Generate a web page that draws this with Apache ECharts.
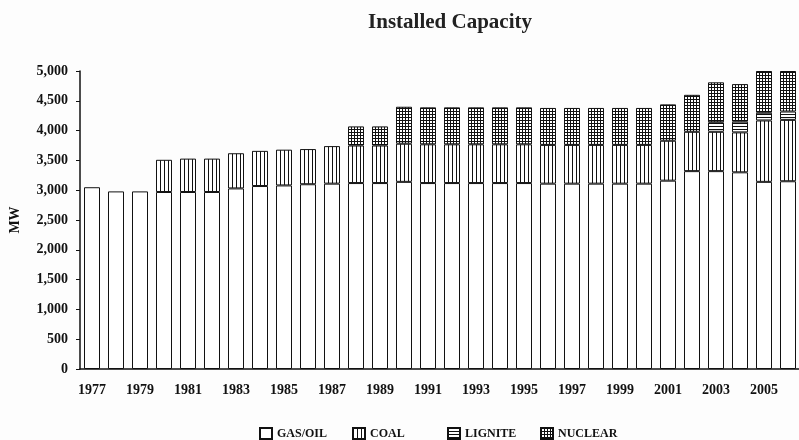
<!DOCTYPE html>
<html>
<head>
<meta charset="utf-8">
<script src="https://cdn.jsdelivr.net/npm/echarts@6/dist/echarts.min.js"></script>
<style>
  html, body { margin: 0; padding: 0; background: #fdfdfd; }
  #chart { width: 799px; height: 440px; }
</style>
</head>
<body>
<div id="chart"></div>
<script>
// years on the category axis
const years = ['1977', '1978', '1979', '1980', '1981', '1982', '1983', '1984', '1985', '1986',
  '1987', '1988', '1989', '1990', '1991', '1992', '1993', '1994', '1995', '1996',
  '1997', '1998', '1999', '2000', '2001', '2002', '2003', '2004', '2005', '2006']

// MW per fuel type
const gasOil = [3050, 2980, 2980, 2970, 2970, 2970, 3030, 3070, 3080, 3100,
  3110, 3120, 3120, 3140, 3120, 3120, 3120, 3120, 3120, 3110,
  3110, 3110, 3110, 3110, 3160, 3320, 3320, 3300, 3140, 3150]
const coal = [0, 0, 0, 540, 560, 560, 590, 590, 600, 590,
  630, 630, 630, 640, 650, 650, 650, 650, 650, 650,
  650, 650, 650, 650, 670, 660, 660, 670, 1030, 1030]
const lignite = [0, 0, 0, 0, 0, 0, 0, 0, 0, 0,
  0, 0, 0, 0, 0, 0, 0, 0, 0, 0,
  0, 0, 0, 0, 0, 0, 160, 180, 130, 140]
const nuclear = [0, 0, 0, 0, 0, 0, 0, 0, 0, 0,
  0, 320, 320, 620, 620, 620, 620, 620, 620, 620,
  620, 620, 620, 620, 610, 620, 670, 630, 700, 680]

const fuels = ['GAS/OIL', 'COAL', 'LIGNITE', 'NUCLEAR']

const font = 'Liberation Serif'

// hatch fills like the old print chart
function pattern(w, h, draw) {
  const c = document.createElement('canvas')
  c.width = w
  c.height = h
  const ctx = c.getContext('2d')
  ctx.fillStyle = '#ffffff'
  ctx.fillRect(0, 0, w, h)
  ctx.fillStyle = '#111111'
  draw(ctx)
  return { image: c, repeat: 'repeat' }
}
const coalFill = pattern(4, 1, ctx => ctx.fillRect(0, 0, 1, 1))
const ligniteFill = pattern(1, 3, ctx => ctx.fillRect(0, 0, 1, 1))
const nuclearFill = pattern(3, 3, ctx => {
  ctx.fillRect(0, 0, 3, 1)
  ctx.fillRect(0, 0, 1, 3)
})

function bar(name, data, fill) {
  return {
    name: name,
    type: 'bar',
    stack: 'total',
    barWidth: 16,
    // empty segments would still draw a border line, so skip them
    data: data.map(v => (v === 0 ? null : v)),
    itemStyle: { color: fill, borderColor: '#111', borderWidth: 1 },
    emphasis: { disabled: true }
  }
}

// the printed legend is spaced unevenly, so one legend per entry
const legendLeft = [259, 352, 447, 540]
const legends = fuels.map((name, i) => ({
  data: [name],
  left: legendLeft[i],
  top: 427,
  padding: 0,
  icon: 'rect',
  itemWidth: 12,
  itemHeight: 11,
  selectedMode: false,
  textStyle: { fontFamily: font, fontSize: 12, fontWeight: 'bold', color: '#111' }
}))

const myChart = echarts.init(document.getElementById('chart'))
myChart.setOption({
  backgroundColor: '#fdfdfd',
  animation: false,
  title: {
    text: 'Installed Capacity',
    left: 445,
    top: 7,
    textAlign: 'center',
    textStyle: { fontFamily: font, fontSize: 21, fontWeight: 'bold', color: '#222' }
  },
  legend: legends,
  grid: { left: 80, top: 71, width: 720, height: 298, outerBoundsMode: 'none' },
  xAxis: {
    type: 'category',
    data: years,
    axisLine: { lineStyle: { color: '#111', width: 1.5 } },
    axisTick: { length: 4, lineStyle: { color: '#111' } },
    axisLabel: {
      interval: 1,
      margin: 14,
      fontFamily: font,
      fontSize: 14,
      fontWeight: 'bold',
      color: '#111'
    }
  },
  yAxis: {
    type: 'value',
    min: 0,
    max: 5000,
    interval: 500,
    name: 'MW',
    nameLocation: 'middle',
    nameGap: 58,
    nameTextStyle: { fontFamily: font, fontSize: 14, fontWeight: 'bold', color: '#111' },
    axisLine: { show: true, lineStyle: { color: '#111', width: 1.5 } },
    axisTick: { show: true, length: 4, lineStyle: { color: '#111' } },
    splitLine: { show: false },
    axisLabel: {
      margin: 12,
      fontFamily: font,
      fontSize: 14,
      fontWeight: 'bold',
      color: '#111',
      formatter: v => v.toLocaleString('en-US')
    }
  },
  series: [
    bar(fuels[0], gasOil, '#ffffff'),
    bar(fuels[1], coal, coalFill),
    bar(fuels[2], lignite, ligniteFill),
    bar(fuels[3], nuclear, nuclearFill)
  ]
})
</script>
</body>
</html>
